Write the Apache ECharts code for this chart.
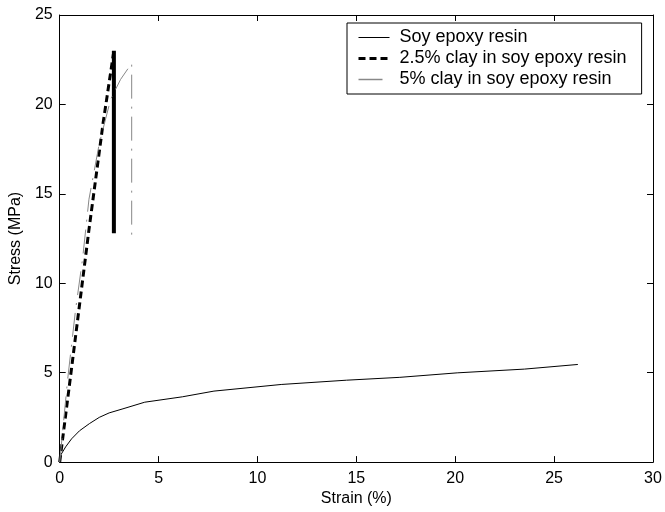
<!DOCTYPE html>
<html>
<head>
<meta charset="utf-8">
<script src="https://cdn.jsdelivr.net/npm/echarts@6/dist/echarts.min.js"></script>
<style>
html,body{margin:0;padding:0;background:#fff;}
#chart{width:665px;height:512px;}
</style>
</head>
<body>
<div id="chart"></div>
<script>
// ---- data ----
const seriesNames = ['Soy epoxy resin', '2.5% clay in soy epoxy resin', '5% clay in soy epoxy resin'];
const xTicks = [0, 5, 10, 15, 20, 25, 30];
const yTicks = [0, 5, 10, 15, 20, 25];

const soyStrain  = [0, 0.3, 0.6, 1.0, 1.5, 2.0, 2.5, 3.2, 4.3, 6.2, 7.8, 11.2, 14.5, 17.2, 20.1, 23.5, 26.2];
const soyStress  = [0.3, 0.85, 1.3, 1.75, 2.15, 2.5, 2.75, 2.98, 3.35, 3.65, 3.97, 4.34, 4.58, 4.74, 4.99, 5.2, 5.46];

const clay25Strain = [0, 0.64, 1.06, 1.48, 2.2, 2.74];
const clay25Stress = [0, 5.6, 9.3, 13.0, 19.0, 23.0];
const clay25DropStrain = [2.74, 2.74];
const clay25DropStress = [23.0, 12.8];

const clay5Strain = [0, 0.4, 0.8, 1.16, 1.48, 2.0, 2.58, 3.08, 3.64, 3.64];
const clay5Stress = [0, 4.6, 8.5, 11.4, 14.7, 17.8, 20.3, 21.4, 22.3, 12.3];

const pairs = (xs, ys) => xs.map((x, i) => [x, ys[i]]);

const FONT = 'Liberation Sans, Arial, Helvetica, sans-serif';
const axisCommon = {
  type: 'value',
  axisLine: { show: true, onZero: false, lineStyle: { color: '#000', width: 1 } },
  axisTick: { show: true, inside: true, length: 6, lineStyle: { color: '#000', width: 1 } },
  splitLine: { show: false },
  axisLabel: { color: '#000', fontSize: 16, fontFamily: FONT }
};

const chart = echarts.init(document.getElementById('chart'), null, { renderer: 'canvas' });
chart.setOption({
  animation: false,
  backgroundColor: '#fff',
  grid: { left: 59, right: 12, top: 15, bottom: 48, containLabel: false },
  xAxis: [
    Object.assign({}, axisCommon, {
      position: 'bottom', min: xTicks[0], max: xTicks[xTicks.length - 1], interval: 5,
      name: 'Strain (%)', nameLocation: 'middle', nameGap: 26,
      nameTextStyle: { color: '#000', fontSize: 16, fontFamily: FONT },
      axisLabel: Object.assign({}, axisCommon.axisLabel, { margin: 8 })
    }),
    Object.assign({}, axisCommon, {
      position: 'top', min: xTicks[0], max: xTicks[xTicks.length - 1], interval: 5,
      axisLabel: { show: false }
    })
  ],
  yAxis: [
    Object.assign({}, axisCommon, {
      position: 'left', min: yTicks[0], max: yTicks[yTicks.length - 1], interval: 5,
      name: 'Stress (MPa)', nameLocation: 'middle', nameGap: 30,
      nameTextStyle: { color: '#000', fontSize: 16, fontFamily: FONT },
      axisLabel: Object.assign({}, axisCommon.axisLabel, { margin: 7 })
    }),
    Object.assign({}, axisCommon, {
      position: 'right', min: yTicks[0], max: yTicks[yTicks.length - 1], interval: 5,
      axisLabel: { show: false }
    })
  ],
  legend: {
    orient: 'vertical',
    left: 347, top: 23,
    data: [
      { name: seriesNames[0], lineStyle: { width: 1 } },
      { name: seriesNames[1], lineStyle: { width: 3 } },
      { name: seriesNames[2], lineStyle: { width: 1.5 } }
    ],
    backgroundColor: '#fff',
    borderColor: '#000', borderWidth: 1, borderRadius: 0,
    padding: [4, 15, 4, 10],
    itemWidth: 31, itemHeight: 14, itemGap: 0,
    itemStyle: { opacity: 0 },
    textStyle: { color: '#000', fontSize: 18, fontFamily: FONT, lineHeight: 21, padding: [0, 0, 0, 5] },
    selectedMode: false
  },
  series: [
    {
      name: seriesNames[0], type: 'line', data: pairs(soyStrain, soyStress),
      showSymbol: false, symbol: 'none', smooth: false,
      lineStyle: { color: '#000', width: 1, type: 'solid' }, itemStyle: { color: '#000' }
    },
    {
      name: seriesNames[1], type: 'line', data: pairs(clay25Strain, clay25Stress),
      showSymbol: false, symbol: 'none',
      lineStyle: { color: '#000', width: 3, type: [7, 4] }, itemStyle: { color: '#000' }
    },
    {
      name: '_drop25', type: 'line', data: pairs(clay25DropStrain, clay25DropStress),
      showSymbol: false, symbol: 'none',
      lineStyle: { color: '#000', width: 4, type: 'solid' }, itemStyle: { color: '#000' }
    },
    {
      name: seriesNames[2], type: 'line', data: pairs(clay5Strain, clay5Stress),
      showSymbol: false, symbol: 'none',
      lineStyle: { color: '#888', width: 1, type: [24, 8, 2, 8] }, itemStyle: { color: '#888' }
    }
  ]
});
</script>
</body>
</html>
